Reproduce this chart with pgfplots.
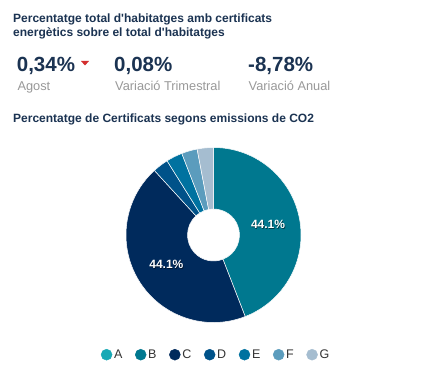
\documentclass[border=0pt]{standalone}
\usepackage{pgfplots}
\pgfplotsset{compat=1.18}
\usepackage{pgfplotstable}
\usepackage{fontspec}
\setmainfont{Liberation Sans}
\definecolor{slice0}{HTML}{17A9B5}
\definecolor{slice1}{HTML}{00788F}
\definecolor{slice2}{HTML}{002A5C}
\definecolor{slice3}{HTML}{005289}
\definecolor{slice4}{HTML}{0072A0}
\definecolor{slice5}{HTML}{5B9CBD}
\definecolor{slice6}{HTML}{A5BDD0}
\definecolor{titlec}{HTML}{1B3352}
\definecolor{subc}{HTML}{999999}
\definecolor{legc}{HTML}{333333}
\definecolor{redc}{HTML}{D32F2F}

\pgfplotstableread{
cat val
A 0.0
B 44.1
C 44.1
D 2.9
E 3.0
F 2.9
G 3.0
}\slices

\begin{document}
\begin{tikzpicture}[x=1pt,y=1pt]
\useasboundingbox (0,0) rectangle (437,-377);
\fill[white] (0,0) rectangle (437,-377);

% header texts
\node[anchor=base west, inner sep=0, font=\bfseries\fontsize{12}{14}\selectfont, text=titlec] at (13,-22.5) {Percentatge total d\textquotesingle habitatges amb certificats};
\node[anchor=base west, inner sep=0, font=\bfseries\fontsize{12}{14}\selectfont, text=titlec] at (13,-36.8) {energètics sobre el total d\textquotesingle habitatges};

\node[anchor=base west, inner sep=0, font=\bfseries\fontsize{20.5}{24}\selectfont, text=titlec] at (16.7,-71.7) {0,34\%};
\node[anchor=base west, inner sep=0, font=\bfseries\fontsize{20.5}{24}\selectfont, text=titlec] at (114,-71.7) {0,08\%};
\node[anchor=base west, inner sep=0, font=\bfseries\fontsize{20.5}{24}\selectfont, text=titlec] at (248,-71.7) {-8,78\%};
\fill[redc] (81,-61) -- (89,-61) -- (85,-65.5) -- cycle;

\node[anchor=base west, inner sep=0, font=\fontsize{12.8}{15}\selectfont, text=subc] at (17.3,-91) {Agost};
\node[anchor=base west, inner sep=0, font=\fontsize{12.8}{15}\selectfont, text=subc] at (115,-91) {Variació Trimestral};
\node[anchor=base west, inner sep=0, font=\fontsize{12.8}{15}\selectfont, text=subc] at (248.5,-91) {Variació Anual};

\node[anchor=base west, inner sep=0, font=\bfseries\fontsize{12}{14}\selectfont, text=titlec] at (13,-122.3) {Percentatge de Certificats segons emissions de CO2};

% compute slice angles (clockwise from top)
\gdef\cum{0}
\foreach \i in {0,...,6}{
  \pgfplotstablegetelem{\i}{val}\of\slices
  \let\vv\pgfplotsretval
  \pgfmathsetmacro\angS{90-3.6*\cum}
  \pgfmathsetmacro\angE{90-3.6*(\cum+\vv)}
  \pgfmathsetmacro\angM{90-3.6*(\cum+\vv/2)}
  \pgfmathsetmacro\newcum{\cum+\vv}
  \expandafter\xdef\csname sa\i\endcsname{\angS}
  \expandafter\xdef\csname sb\i\endcsname{\angE}
  \expandafter\xdef\csname sm\i\endcsname{\angM}
  \expandafter\xdef\csname sv\i\endcsname{\vv}
  \xdef\cum{\newcum}
}

\begin{axis}[
  at={(213.5,-235)}, anchor=origin,
  hide axis, scale only axis,
  x=1pt, y=1pt,
  xmin=-100, xmax=100, ymin=-100, ymax=100,
  clip=false,
  legend columns=7,
  legend image code/.code={\fill[#1] (5.5pt,0pt) circle (5.5pt);},
  legend style={
    at={(0.5125,-0.0985)}, anchor=center,
    draw=none, fill=none,
    font=\fontsize{12.5}{14}\selectfont, text=legc,
    nodes={inner xsep=1.8pt, inner ysep=0pt},
    /tikz/every even column/.append style={column sep=10.8pt},
  },
]
\pgfplotsinvokeforeach{0,...,6}{
  \begin{scope}[shift={(axis cs:0,0)}]
  \filldraw[fill=slice#1, draw=white, line width=0.5pt]
    (\csname sa#1\endcsname:26pt) -- (\csname sa#1\endcsname:87.5pt)
    arc[start angle=\csname sa#1\endcsname, end angle=\csname sb#1\endcsname, radius=87.5pt]
    -- (\csname sb#1\endcsname:26pt)
    arc[start angle=\csname sb#1\endcsname, end angle=\csname sa#1\endcsname, radius=26pt]
    -- cycle;
  \end{scope}
}
\pgfplotsinvokeforeach{1,2}{
  \begin{scope}[shift={(axis cs:0,0)}]
  \node[font=\bfseries\fontsize{12}{13}\selectfont, text=black, opacity=0.5] at ([shift={(0.7pt,-0.7pt)}]\csname sm#1\endcsname:55.5pt) {\csname sv#1\endcsname\%};
  \node[font=\bfseries\fontsize{12}{13}\selectfont, text=white] at (\csname sm#1\endcsname:55.5pt) {\csname sv#1\endcsname\%};
  \end{scope}
}
\addlegendimage{slice0}\addlegendentry{A}
\addlegendimage{slice1}\addlegendentry{B}
\addlegendimage{slice2}\addlegendentry{C}
\addlegendimage{slice3}\addlegendentry{D}
\addlegendimage{slice4}\addlegendentry{E}
\addlegendimage{slice5}\addlegendentry{F}
\addlegendimage{slice6}\addlegendentry{G}
\end{axis}
\end{tikzpicture}
\end{document}
